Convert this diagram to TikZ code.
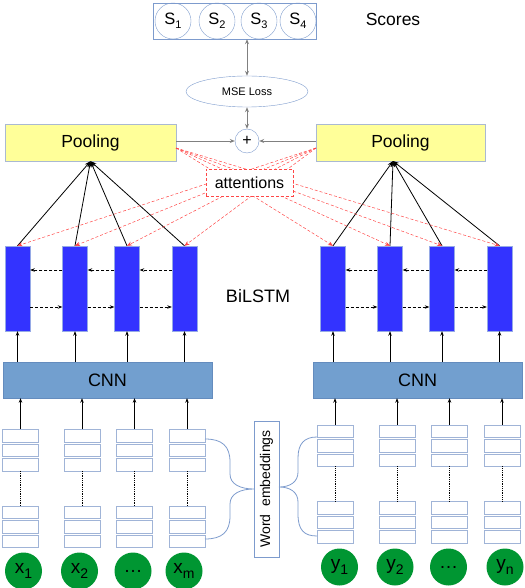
\documentclass[tikz,border=0pt]{standalone}
\usepackage{fontspec}
\setmainfont{Liberation Sans}
\usetikzlibrary{arrows.meta,shapes.geometric}
\definecolor{circblue}{RGB}{125,155,205}
\definecolor{poolyellow}{RGB}{255,255,153}
\definecolor{poolborder}{RGB}{170,185,210}
\definecolor{lstmblue}{RGB}{51,51,255}
\definecolor{lstmborder}{RGB}{150,170,230}
\definecolor{cnnblue}{RGB}{114,159,207}
\definecolor{cnnborder}{RGB}{100,140,190}
\definecolor{embborder}{RGB}{160,180,215}
\definecolor{wordgreen}{RGB}{0,150,50}
\definecolor{attred}{RGB}{255,70,70}
\newcommand{\myfs}[1]{\fontsize{#1}{#1}\selectfont}
\newcommand{\ssub}[1]{\raisebox{-4pt}{\myfs{11}#1}}
\newcommand{\wsub}[1]{\raisebox{-5pt}{\myfs{14}#1}}
\begin{document}
\begin{tikzpicture}[x=1pt,y=-1pt,
  scorebox/.style={draw=circblue, minimum width=163pt, minimum height=36pt, inner sep=0pt},
  scirc/.style={circle, draw=circblue, minimum size=36pt, inner sep=0pt, font=\myfs{16.5}},
  msenode/.style={ellipse, draw=circblue, minimum width=122pt, minimum height=31pt, inner sep=0pt, font=\myfs{11}},
  pluscirc/.style={circle, draw=circblue, fill=white, minimum size=24pt, inner sep=0pt, font=\myfs{16}},
  poolbox/.style={draw=poolborder, fill=poolyellow, minimum height=37pt, inner sep=0pt, font=\myfs{17.5}},
  lstmbox/.style={draw=lstmborder, fill=lstmblue, minimum width=25pt, minimum height=85pt, inner sep=0pt},
  cnnbox/.style={draw=cnnborder, fill=cnnblue, minimum width=209pt, minimum height=36pt, inner sep=0pt, font=\myfs{18}},
  embcell/.style={draw=embborder, fill=white, minimum width=36pt, minimum height=12.5pt, inner sep=0pt},
  wordcirc/.style={circle, fill=wordgreen, minimum size=37pt, inner sep=0pt, font=\myfs{19}},
  attbox/.style={draw=attred, densely dashed, fill=white, minimum width=87pt, minimum height=27pt, inner sep=0pt, font=\myfs{16}},
  grayarrow/.style={draw=gray, line width=0.8pt},
  gtip/.tip={Stealth[length=5pt,width=4pt]},
  btip/.tip={Stealth[length=4.5pt,width=3.5pt]},
  blackarrow/.style={draw=black, line width=0.7pt, -btip},
  convarrow/.style={draw=black, line width=0.8pt, -{Stealth[length=6pt,width=4.5pt]}},
  redline/.style={draw=attred, line width=0.5pt, densely dashed, -{Stealth[length=5pt,width=4pt]}},
  dasharrow/.style={draw=black, line width=0.6pt, densely dashed, -btip},
  bracestyle/.style={draw=circblue, line width=0.8pt}
]
\useasboundingbox (0,0) rectangle (524,588);

% Scores
\node[scorebox] (scores) at (234.5,21) {};
\foreach \i/\x in {1/173,2/217,3/259,4/298}
  \node[scirc] (s\i) at (\x,21) {S\ssub{\i}};
\node[font=\myfs{17.5}] (scorelabel) at (393,19) {Scores};

% MSE and plus
\node[msenode] (mse) at (247,91.5) {MSE Loss};
\node[pluscirc] (plus) at (247,141) {+};
\draw[grayarrow, gtip-gtip] (scores.south -| mse.north) -- (mse.north);
\draw[grayarrow, gtip-gtip] (mse.south) -- (plus.north);

% Pooling
\node[poolbox, minimum width=171pt] (lpool) at (90.5,142.5) {Pooling};
\node[poolbox, minimum width=169pt] (rpool) at (400.5,142.5) {Pooling};
\draw[grayarrow, -gtip] (lpool.east |- plus.west) -- (plus.west);
\draw[grayarrow, -gtip] (rpool.west |- plus.east) -- (plus.east);

% BiLSTM blocks
\foreach \i/\x in {1/17.5,2/75,3/127,4/184.5}
  \node[lstmbox] (lb\i) at (\x,288.5) {};
\foreach \i/\x in {1/333,2/390,3/442,4/499.5}
  \node[lstmbox] (rb\i) at (\x,288.5) {};
\node[font=\myfs{18}] (bilstm) at (258,296) {BiLSTM};

\coordinate (rconv) at (393,161);
\foreach \i in {1,...,4} {
  \draw[convarrow] (lb\i.north) -- (lpool.south);
  \draw[convarrow] (rb\i.north) -- (rconv);
}

% attention lines
\coordinate (latt) at (176,148);
\coordinate (ratt) at (316,148);
\foreach \i in {1,...,4} {
  \draw[redline] (latt) -- (rb\i.north);
  \draw[redline] (ratt) -- (lb\i.north);
}
\node[attbox] (att) at (249.5,182.5) {attentions};

% LSTM recurrences
\foreach \i/\j in {1/2,2/3,3/4} {
  \draw[dasharrow] ([yshift=18.5pt]lb\j.west) -- ([yshift=18.5pt]lb\i.east);
  \draw[dasharrow] ([yshift=-18.5pt]lb\i.east) -- ([yshift=-18.5pt]lb\j.west);
  \draw[dasharrow] ([yshift=18.5pt]rb\j.west) -- ([yshift=18.5pt]rb\i.east);
  \draw[dasharrow] ([yshift=-18.5pt]rb\i.east) -- ([yshift=-18.5pt]rb\j.west);
}

% CNN
\node[cnnbox] (lcnn) at (107.5,380) {CNN};
\node[cnnbox] (rcnn) at (417.5,380) {CNN};
\foreach \i in {1,...,4} {
  \draw[blackarrow] (lb\i.south |- lcnn.north) -- (lb\i.south);
  \draw[blackarrow] (rb\i.south |- rcnn.north) -- (rb\i.south);
}

% Embeddings left
\foreach \i/\x in {1/20.5,2/82,3/134.5,4/187} {
  \foreach \k/\y in {a/435.5,b/450,c/464.5,d/512,e/526.5,f/541}
    \node[embcell] (le\i\k) at (\x,\y) {};
  \draw[black, line width=0.8pt, densely dotted] (le\i c.south) -- (le\i d.north);
  \draw[blackarrow] (le\i a.north) -- (le\i a.north |- lcnn.south);
}
% Embeddings right
\foreach \i/\x in {1/335,2/397,3/449.5,4/502} {
  \foreach \k/\y in {a/431,b/445.5,c/460,d/507.5,e/522,f/536.5}
    \node[embcell] (re\i\k) at (\x,\y) {};
  \draw[black, line width=0.8pt, densely dotted] (re\i c.south) -- (re\i d.north);
  \draw[blackarrow] (re\i a.north) -- (re\i a.north |- rcnn.south);
}

% Word circles
\node[wordcirc] (x1) at (23.5,571) {x\wsub{1}};
\node[wordcirc] (x2) at (79.5,571) {x\wsub{2}};
\node[wordcirc] (x3) at (133,571) {\raisebox{-3pt}{…}};
\node[wordcirc] (x4) at (184,571) {x\wsub{m}};
\node[wordcirc] (y1) at (339.5,567) {y\wsub{1}};
\node[wordcirc] (y2) at (395,567) {y\wsub{2}};
\node[wordcirc] (y3) at (448.5,567) {\raisebox{-3pt}{…}};
\node[wordcirc] (y4) at (505,567) {y\wsub{n}};

% Word embeddings label
\node[draw=circblue, rotate=90, minimum width=136pt, minimum height=25pt, inner sep=0pt, font=\myfs{14}] (wemb) at (266.5,489) {Word\ \ embeddings};

% Braces
\draw[bracestyle] (205,439) .. controls (222,439) and (230,446) .. (230,462) -- (230,474)
  .. controls (230,484) and (240,489) .. (254,489)
  .. controls (240,489) and (230,494) .. (230,504) -- (230,516)
  .. controls (230,532) and (222,539) .. (205,539);
\draw[bracestyle] (317,437) .. controls (304,437) and (298,444) .. (298,458) -- (298,472)
  .. controls (298,482) and (290,487) .. (279,487)
  .. controls (290,487) and (298,492) .. (298,502) -- (298,514)
  .. controls (298,530) and (304,536) .. (317,536);
\end{tikzpicture}
\end{document}
